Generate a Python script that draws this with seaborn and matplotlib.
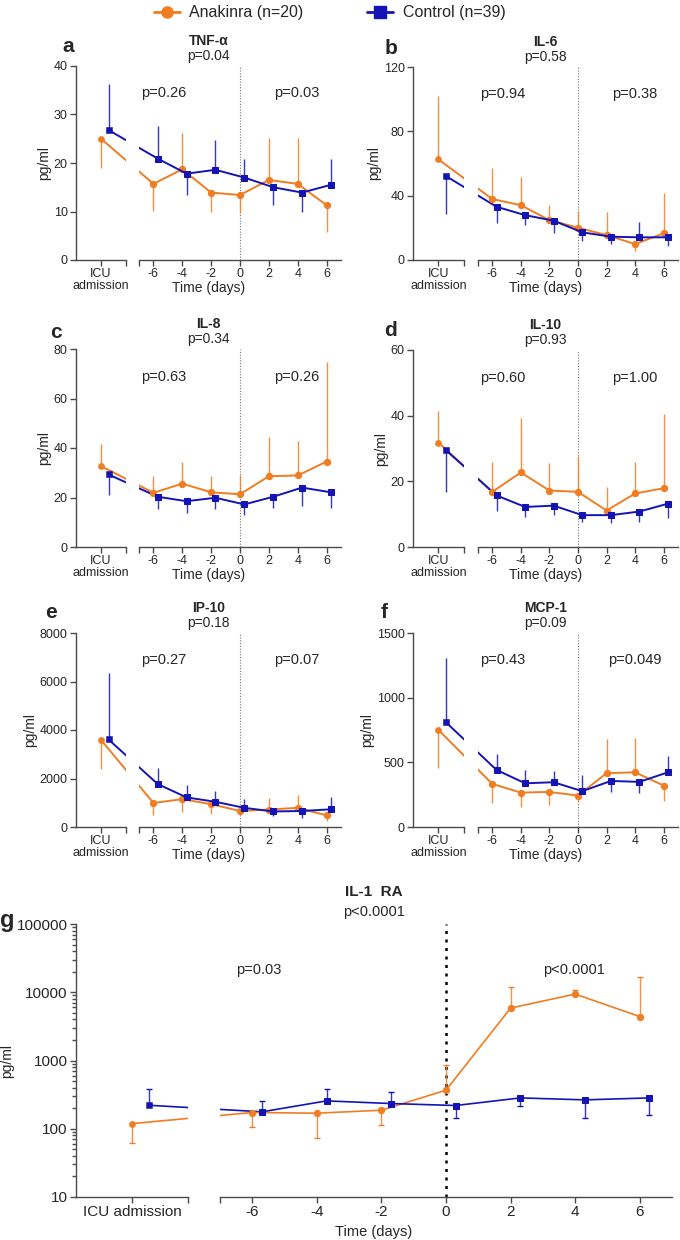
import matplotlib
matplotlib.use("Agg")
import matplotlib.pyplot as plt
import matplotlib.ticker as mticker
from matplotlib.lines import Line2D
import matplotlib.transforms as mtrans
import seaborn as sns

sns.set_style("ticks")
plt.rcParams['font.family'] = ['Liberation Sans', 'DejaVu Sans']

ORANGE = "#F07D22"
BLUE = "#1414B4"
SPINE = "#4a4a4a"

# ---------------- data ----------------
days = [-6, -4, -2, 0, 2, 4, 6]
groups = ["Anakinra (n=20)", "Control (n=39)"]

# TNF-alpha  (icu = [anakinra, control]; *_bar = end of the one-sided error bar)
tnf_icu = [25.0, 26.8]
tnf_icu_bar = [19.0, 36.3]
tnf_ana = [15.7, 18.7, 13.9, 13.4, 16.5, 15.7, 11.3]
tnf_ana_bar = [10.2, 26.2, 9.9, 9.6, 25.2, 25.2, 5.8]
tnf_ctl = [20.9, 17.8, 18.6, 17.0, 15.0, 13.9, 15.5]
tnf_ctl_bar = [27.6, 13.4, 24.7, 20.9, 11.3, 9.8, 20.9]

# IL-6
il6_icu = [62.5, 52.1]
il6_icu_bar = [101.8, 28.3]
il6_ana = [37.9, 34.1, 24.8, 20.1, 15.5, 9.9, 16.6]
il6_ana_bar = [57.5, 51.7, 34.1, 30.6, 29.6, 5.8, 41.8]
il6_ctl = [33.1, 27.9, 24.4, 17.2, 14.5, 14.1, 14.1]
il6_ctl_bar = [23.2, 21.7, 16.6, 12.0, 9.9, 23.4, 8.9]

# IL-8
il8_icu = [32.7, 29.3]
il8_icu_bar = [41.7, 21.2]
il8_ana = [21.9, 25.6, 22.1, 21.3, 28.6, 28.9, 34.5]
il8_ana_bar = [28.6, 34.4, 28.6, 28.9, 44.5, 43.0, 74.8]
il8_ctl = [20.3, 18.5, 19.9, 17.2, 20.3, 24.0, 22.1]
il8_ctl_bar = [15.4, 13.8, 15.2, 12.9, 15.8, 16.5, 15.8]

# IL-10
il10_icu = [31.8, 29.4]
il10_icu_bar = [41.4, 16.8]
il10_ana = [16.8, 22.7, 17.2, 16.8, 11.1, 16.3, 17.9]
il10_ana_bar = [26.0, 39.2, 25.6, 27.8, 18.2, 25.8, 40.4]
il10_ctl = [15.7, 12.2, 12.6, 9.7, 9.7, 10.8, 13.2]
il10_ctl_bar = [11.1, 9.1, 9.8, 7.5, 7.2, 7.7, 8.8]

# IP-10
ip10_icu = [3590, 3610]
ip10_icu_bar = [2410, 6350]
ip10_ana = [990, 1150, 940, 660, 720, 790, 480]
ip10_ana_bar = [510, 600, 550, 480, 1180, 1310, 250]
ip10_ctl = [1770, 1220, 1040, 790, 640, 660, 730]
ip10_ctl_bar = [2420, 1730, 1480, 1150, 440, 390, 1220]

# MCP-1
mcp_icu = [750, 808]
mcp_icu_bar = [455, 1307]
mcp_ana = [333, 266, 271, 243, 416, 423, 320]
mcp_ana_bar = [183, 157, 170, 200, 681, 687, 204]
mcp_ctl = [441, 338, 346, 277, 356, 349, 423]
mcp_ctl_bar = [565, 441, 436, 403, 269, 261, 550]

# IL-1 RA
il1ra_icu = [119, 221]
il1ra_icu_bar = [62, 376]
il1ra_ana = [173, 169, 187, 367, 5860, 9400, 4410]
il1ra_ana_bar = [106, 74, 115, 873, 11770, 10760, 16870]
il1ra_ctl = [177, 256, 234, 219, 283, 265, 283]
il1ra_ctl_bar = [256, 384, 343, 144, 219, 146, 158]

panels = [
    dict(letter="a", title="TNF-α", p="p=0.04", p_pre="p=0.26", p_post="p=0.03",
         icu=tnf_icu, icu_bar=tnf_icu_bar, ana=tnf_ana, ana_bar=tnf_ana_bar,
         ctl=tnf_ctl, ctl_bar=tnf_ctl_bar, yticks=[0, 10, 20, 30, 40]),
    dict(letter="b", title="IL-6", p="p=0.58", p_pre="p=0.94", p_post="p=0.38",
         icu=il6_icu, icu_bar=il6_icu_bar, ana=il6_ana, ana_bar=il6_ana_bar,
         ctl=il6_ctl, ctl_bar=il6_ctl_bar, yticks=[0, 40, 80, 120]),
    dict(letter="c", title="IL-8", p="p=0.34", p_pre="p=0.63", p_post="p=0.26",
         icu=il8_icu, icu_bar=il8_icu_bar, ana=il8_ana, ana_bar=il8_ana_bar,
         ctl=il8_ctl, ctl_bar=il8_ctl_bar, yticks=[0, 20, 40, 60, 80]),
    dict(letter="d", title="IL-10", p="p=0.93", p_pre="p=0.60", p_post="p=1.00",
         icu=il10_icu, icu_bar=il10_icu_bar, ana=il10_ana, ana_bar=il10_ana_bar,
         ctl=il10_ctl, ctl_bar=il10_ctl_bar, yticks=[0, 20, 40, 60]),
    dict(letter="e", title="IP-10", p="p=0.18", p_pre="p=0.27", p_post="p=0.07",
         icu=ip10_icu, icu_bar=ip10_icu_bar, ana=ip10_ana, ana_bar=ip10_ana_bar,
         ctl=ip10_ctl, ctl_bar=ip10_ctl_bar, yticks=[0, 2000, 4000, 6000, 8000]),
    dict(letter="f", title="MCP-1", p="p=0.09", p_pre="p=0.43", p_post="p=0.049",
         icu=mcp_icu, icu_bar=mcp_icu_bar, ana=mcp_ana, ana_bar=mcp_ana_bar,
         ctl=mcp_ctl, ctl_bar=mcp_ctl_bar, yticks=[0, 500, 1000, 1500]),
    dict(letter="g", title="IL-1  RA", p="p<0.0001", p_pre="p=0.03", p_post="p<0.0001",
         icu=il1ra_icu, icu_bar=il1ra_icu_bar, ana=il1ra_ana, ana_bar=il1ra_ana_bar,
         ctl=il1ra_ctl, ctl_bar=il1ra_ctl_bar, yticks=[10, 100, 1000, 10000, 100000]),
]

# ---------------- layout (pixels) ----------------
W, H = 680, 1240
# left-axis x0, x1, right-axis x0, x1, top, bottom
layouts = [
    (76, 126, 139, 341, 66, 260),
    (413, 464, 478, 678, 67, 260),
    (76, 126, 139, 341, 349, 547),
    (413, 464, 478, 678, 350, 547),
    (76, 126, 139, 341, 633, 827),
    (413, 464, 478, 678, 633, 827),
    (76, 188, 220, 672, 924, 1197),
]
letter_pos = [(68, 47), (391, 48), (56, 332), (391, 330), (51, 613), (384, 612), (7, 921)]

fig = plt.figure(figsize=(W / 100, H / 100), dpi=100)


def rect(x0, x1, yt, yb):
    return [x0 / W, 1 - yb / H, (x1 - x0) / W, (yb - yt) / H]


def style_axis(ax, fs):
    for s in ["top", "right"]:
        ax.spines[s].set_visible(False)
    for s in ["left", "bottom"]:
        ax.spines[s].set_color(SPINE)
        ax.spines[s].set_linewidth(1.0)
    ax.tick_params(which="both", direction="out", color=SPINE, width=1.0, labelsize=fs, pad=2)
    ax.tick_params(which="major", length=4)
    ax.tick_params(which="minor", length=4)


def bridge(axl, axr, xa, ya, xb, yb, color, lw):
    # line from ICU point (left axis) to day -6 point (right axis), hidden in the gap
    pa = axl.transData.transform((xa, ya))
    pb = axr.transData.transform((xb, yb))
    b_in_l = axl.transData.inverted().transform(pb)
    a_in_r = axr.transData.inverted().transform(pa)
    axl.plot([xa, b_in_l[0]], [ya, b_in_l[1]], color=color, lw=lw, zorder=2)
    axr.plot([a_in_r[0], xb], [a_in_r[1], yb], color=color, lw=lw, zorder=2)


def errbars(ax, xs, vals, bars, color, lw, cap):
    ax.vlines(xs, vals, bars, color=color, lw=lw, alpha=0.85, zorder=1)
    if cap:
        ax.plot(xs, bars, ls="none", marker="_", ms=5, mew=lw, color=color, zorder=1)


for i, (p, lay) in enumerate(zip(panels, layouts)):
    big = p["letter"] == "g"
    xl0, xl1, xr0, xr1, yt, yb = lay
    axl = fig.add_axes(rect(xl0, xl1, yt, yb))
    axr = fig.add_axes(rect(xr0, xr1, yt, yb))
    fs = 11 if big else 9
    for ax in (axl, axr):
        style_axis(ax, fs)
        if big:
            ax.set_yscale("log")
        ax.set_ylim(p["yticks"][0], p["yticks"][-1])
        ax.patch.set_alpha(0)
    axl.set_xlim(0, 1)
    axr.set_xlim(-7, 7)

    icu_x = [0.5, 0.65]
    ctl_days = [d + 0.3 for d in days]
    lw = 1.2 if big else 1.4
    ms_o = 4.5
    ms_s = 4.5 if big else 5

    # error bars
    errbars(axl, [icu_x[0]], [p["icu"][0]], [p["icu_bar"][0]], ORANGE, 1.0, big)
    errbars(axl, [icu_x[1]], [p["icu"][1]], [p["icu_bar"][1]], BLUE, 1.0, big)
    errbars(axr, days, p["ana"], p["ana_bar"], ORANGE, 1.0, big)
    errbars(axr, ctl_days, p["ctl"], p["ctl_bar"], BLUE, 1.0, big)

    # lines across the axis break
    bridge(axl, axr, icu_x[0], p["icu"][0], days[0], p["ana"][0], ORANGE, lw)
    bridge(axl, axr, icu_x[1], p["icu"][1], ctl_days[0], p["ctl"][0], BLUE, lw)

    # series
    sns.lineplot(x=days, y=p["ana"], ax=axr, color=ORANGE, lw=lw, marker="o",
                 markersize=ms_o, markeredgecolor=ORANGE, zorder=3)
    sns.lineplot(x=ctl_days, y=p["ctl"], ax=axr, color=BLUE, lw=lw, marker="s",
                 markersize=ms_s, markeredgecolor=BLUE, zorder=3)
    sns.scatterplot(x=[icu_x[0]], y=[p["icu"][0]], ax=axl, color=ORANGE, marker="o",
                    s=ms_o ** 2, edgecolor=ORANGE, zorder=3)
    sns.scatterplot(x=[icu_x[1]], y=[p["icu"][1]], ax=axl, color=BLUE, marker="s",
                    s=ms_s ** 2, edgecolor=BLUE, zorder=3)
    axl.set_xlim(0, 1)
    axr.set_xlim(-7, 7)

    # zero line
    if big:
        axr.axvline(0, color="black", ls=(0, (1.2, 2.2)), lw=1.8, zorder=0)
    else:
        axr.axvline(0, color="#777777", ls=(0, (1, 1.5)), lw=0.8, zorder=0)

    # ticks
    axl.set_xticks([0.5])
    axl.set_xticklabels(["ICU admission" if big else "ICU\nadmission"], linespacing=1.0)
    axl.set_xticks([1.0], minor=True)
    axr.set_xticks(days)
    axr.set_xticklabels([str(d) for d in days])
    axr.set_xticks([-7], minor=True)
    axr.spines["left"].set_visible(False)
    axr.set_yticks([])
    axr.tick_params(axis="y", which="both", left=False, labelleft=False)
    axl.set_yticks(p["yticks"])
    if big:
        axl.yaxis.set_minor_locator(mticker.LogLocator(base=10, subs=range(2, 10)))
        axl.yaxis.set_minor_formatter(mticker.NullFormatter())
        axl.tick_params(axis="y", which="minor", length=3)
    else:
        axl.yaxis.set_minor_locator(mticker.NullLocator())
    axl.set_yticklabels([str(v) for v in p["yticks"]])
    axl.set_ylabel("pg/ml", fontsize=10, labelpad=2)

    # texts
    cx = (xl0 + xr1) / 2 / W
    tdy = 32 if big else 25
    pdy = 12 if big else 10
    fig.text(cx, 1 - (yt - tdy) / H, p["title"], ha="center", va="center",
             fontsize=11 if big else 10, fontweight="bold")
    fig.text(cx, 1 - (yt - pdy) / H, p["p"], ha="center", va="center", fontsize=10.5 if big else 10)
    fig.text(cx, 1 - (yb + (35 if big else 28)) / H, "Time (days)", ha="center", va="center",
             fontsize=10.5 if big else 10)
    tr = mtrans.blended_transform_factory(axr.transData, axr.transAxes)
    py = 0.83 if big else 0.86
    pre_x = -5.8 if big else -5.3
    axr.text(pre_x, py, p["p_pre"], transform=tr, ha="center", va="center", fontsize=10.5)
    axr.text(3.95, py, p["p_post"], transform=tr, ha="center", va="center", fontsize=10.5)
    lx, ly = letter_pos[i]
    fig.text(lx / W, 1 - ly / H, p["letter"], ha="center", va="center",
             fontsize=17 if big else 15, fontweight="bold")

# legend
handles = [
    Line2D([], [], color=ORANGE, lw=2, marker="o", ms=8, mec=ORANGE),
    Line2D([], [], color=BLUE, lw=2, marker="s", ms=8, mec=BLUE),
]
fig.legend(handles, groups, loc="center", bbox_to_anchor=(0.485, 1 - 13 / H), ncol=2,
           frameon=False, fontsize=11.5, handlelength=1.6, handletextpad=0.6,
           columnspacing=4.0)

fig.savefig("out.png", dpi=100)
